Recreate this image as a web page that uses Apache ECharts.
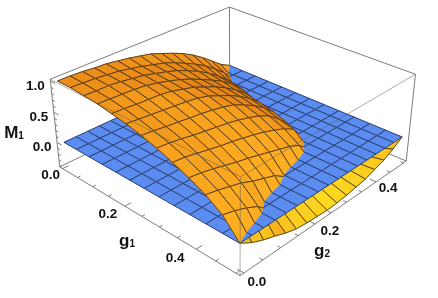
<!DOCTYPE html>
<html><head><meta charset="utf-8">
<style>html,body{margin:0;padding:0;background:#fff}#c{width:438px;height:298px}</style>
<script src="https://cdn.jsdelivr.net/npm/echarts@6/dist/echarts.min.js"></script>
</head><body><div id="c"></div>
<script>
// Axis range and surface samples
var gMin = 0, gMax = 0.5;
var planeLevel = 0;
var g1Ticks = [0, 0.2, 0.4], g2Ticks = [0, 0.2, 0.4], zTicks = [0, 0.5, 1];
var g1Labels = ['0.0', '0.2', '0.4'], g2Labels = ['0.0', '0.2', '0.4'], zLabels = ['0.0', '0.5', '1.0'];
var zBox = [-0.42, 1.03], gBox = [-0.01, 0.51];
// M1 rows: g1 = 0 .. 0.5 (13 samples), columns: g2 = 0 .. 0.5 (17 samples)
var m1 = [
[1.00,1.00,.99,.97,.96,.93,.90,.86,.82,.75,.68,.60,.50,.38,.24,.10,0],
[1.00,.99,.98,.96,.94,.90,.86,.81,.76,.69,.60,.51,.40,.27,.12,-.08,-.20],
[.98,.97,.97,.95,.92,.89,.84,.79,.73,.65,.56,.45,.32,.17,-.07,-.26,-.40],
[.96,.95,.94,.93,.91,.87,.82,.76,.69,.60,.51,.41,.28,.12,-.15,-.32,-.47],
[.92,.91,.89,.88,.87,.84,.79,.74,.66,.58,.48,.36,.22,.02,-.22,-.37,-.50],
[.88,.86,.84,.82,.80,.78,.75,.70,.62,.54,.44,.32,.17,-.13,-.29,-.41,-.52],
[.82,.80,.77,.75,.72,.70,.67,.63,.58,.49,.39,.27,.11,-.15,-.30,-.42,-.53],
[.75,.73,.70,.66,.63,.60,.57,.53,.48,.42,.33,.19,.02,-.19,-.31,-.41,-.48],
[.66,.64,.60,.56,.52,.49,.45,.41,.36,.30,.23,.13,-.10,-.23,-.31,-.38,-.42],
[.56,.53,.49,.44,.39,.35,.30,.25,.20,.15,.07,-.08,-.16,-.25,-.31,-.34,-.36],
[.44,.40,.35,.30,.22,.16,.10,-.02,-.08,-.13,-.17,-.21,-.24,-.26,-.28,-.29,-.27],
[.28,.23,.16,.07,-.10,-.17,-.21,-.25,-.28,-.29,-.30,-.30,-.29,-.28,-.25,-.21,-.15],
[0,-.11,-.19,-.25,-.32,-.37,-.39,-.40,-.41,-.40,-.38,-.35,-.32,-.26,-.20,-.11,0]
];

// ---- view: perspective fitted to the box corners seen in the picture
var pins = [
 [gBox[0],gBox[0],zBox[0],60,168],[gBox[1],gBox[0],zBox[0],240,276],[gBox[1],gBox[1],zBox[0],405,162],
 [gBox[0],gBox[0],zBox[1],50,79],[gBox[1],gBox[0],zBox[1],240,176],[gBox[1],gBox[1],zBox[1],416,75],[gBox[0],gBox[1],zBox[1],229,8],
 [0,0,0,64,142],[.5,0,0,240,243],[.5,.5,0,403,136],[0,.5,0,230,64]
];
function fit(pins){
  var A=[],B=[];
  pins.forEach(function(p){
    var X=p[0]*2,Y=p[1]*2,Z=p[2],u=p[3]/100,v=p[4]/100;
    A.push([X,Y,Z,1,0,0,0,0,-u*X,-u*Y,-u*Z]);B.push(u);
    A.push([0,0,0,0,X,Y,Z,1,-v*X,-v*Y,-v*Z]);B.push(v);
  });
  var n=11,M=[];
  for(var a=0;a<n;a++){M[a]=[];for(var b=0;b<=n;b++){var s=0;
    for(var r=0;r<A.length;r++)s+=A[r][a]*(b<n?A[r][b]:B[r]);M[a][b]=s;}}
  for(var c=0;c<n;c++){var piv=c;for(var r2=c+1;r2<n;r2++)if(Math.abs(M[r2][c])>Math.abs(M[piv][c]))piv=r2;
    var t=M[c];M[c]=M[piv];M[piv]=t;
    for(var r3=0;r3<n;r3++){if(r3===c)continue;var f=M[r3][c]/M[c][c];for(var k=c;k<=n;k++)M[r3][k]-=f*M[c][k];}}
  return M.map(function(row,i){return row[n]/row[i];});
}
var P=fit(pins);
function project(g1,g2,z){
  var X=g1*2,Y=g2*2,w=P[8]*X+P[9]*Y+P[10]*z+1;
  return [100*(P[0]*X+P[1]*Y+P[2]*z+P[3])/w,100*(P[4]*X+P[5]*Y+P[6]*z+P[7])/w];
}

var N1=m1.length-1,N2=m1[0].length-1;
function g1At(i){return gMin+(gMax-gMin)*i/N1;}
function g2At(j){return gMin+(gMax-gMin)*j/N2;}
function corners(i,j,surf){
  var h=surf?function(a,b){return m1[a][b];}:function(){return planeLevel;};
  return [[i,j],[i+1,j],[i+1,j+1],[i,j+1]].map(function(q){return [g1At(q[0]),g2At(q[1]),h(q[0],q[1])];});
}
function lerp3(a,b,t){return [a[0]+(b[0]-a[0])*t,a[1]+(b[1]-a[1])*t,a[2]+(b[2]-a[2])*t];}
function clipPoly(pts,sign){
  var out=[];
  for(var k=0;k<pts.length;k++){
    var a=pts[k],b=pts[(k+1)%pts.length],da=(a[2]-planeLevel)*sign,db=(b[2]-planeLevel)*sign;
    if(da>=0)out.push(a);
    if(da*db<0)out.push(lerp3(a,b,da/(da-db)));
  }
  return out;
}
function clipSeg(a,b,sign){
  var da=(a[2]-planeLevel)*sign,db=(b[2]-planeLevel)*sign;
  if(da<0&&db<0)return null;
  if(da>=0&&db>=0)return [a,b];
  var m=lerp3(a,b,da/(da-db));
  return da>=0?[a,m]:[m,b];
}
function mix(c1,c2,t){t=Math.max(0,Math.min(1,t));
  return 'rgb('+c1.map(function(v,i){return Math.round(v+(c2[i]-v)*t);}).join(',')+')';}
function slopes(i,j){
  var sx=(m1[i+1][j]+m1[i+1][j+1]-m1[i][j]-m1[i][j+1])/2*N1*0.276,
      sy=(m1[i][j+1]+m1[i+1][j+1]-m1[i][j]-m1[i+1][j])/2*N2*0.276;
  return [sx,sy];
}
function upperColor(i,j){
  var s=slopes(i,j),l=Math.sqrt(s[0]*s[0]+s[1]*s[1]+1);
  var t=(-s[0]*0.8+s[1]*0.3+0.5)/l;
  return mix([226,124,20],[255,174,34],(t-0.36)/0.42);
}
function lowerColor(i,j){
  var s=slopes(i,j);
  return mix([245,166,30],[255,216,32],1-Math.abs(s[1])*1.4);
}

function cellShape(api,pts,fill,lineCol,sign){
  var toXY=function(p){return api.coord(project(p[0],p[1],p[2]));};
  var kids=[];
  var poly=sign?clipPoly(pts,sign):pts;
  if(poly.length<3)return {type:'group',children:[]};
  kids.push({type:'polygon',shape:{points:poly.map(toXY)},style:{fill:fill,stroke:fill,lineWidth:0.6}});
  for(var k=0;k<4;k++){
    var seg=sign?clipSeg(pts[k],pts[(k+1)%4],sign):[pts[k],pts[(k+1)%4]];
    if(!seg)continue;
    var a=toXY(seg[0]),b=toXY(seg[1]);
    kids.push({type:'line',shape:{x1:a[0],y1:a[1],x2:b[0],y2:b[1]},style:{stroke:lineCol,lineWidth:0.9}});
  }
  return {type:'group',children:kids};
}
var cells=[];
for(var ci=0;ci<N1;ci++)for(var cj=N2-1;cj>=0;cj--)cells.push([ci,cj]);
function surfaceSeries(kind,z){
  return {type:'custom',coordinateSystem:'cartesian2d',data:cells,z:z,silent:true,animation:false,clip:false,progressive:0,
    renderItem:function(p,api){
      var i=api.value(0),j=api.value(1);
      if(kind==='plane')return cellShape(api,corners(i,j,false),'#5a8cf2','#27395f',0);
      if(kind==='upper')return cellShape(api,corners(i,j,true),upperColor(i,j),'#4a3416',1);
      return cellShape(api,corners(i,j,true),lowerColor(i,j),'#4a3a14',-1);
    }};
}
// ---- box edges
var b0=gBox[0],b1=gBox[1],zl=zBox[0],zh=zBox[1];
var backEdges=[[[b0,b0,zh],[b0,b1,zh]],[[b0,b1,zh],[b1,b1,zh]],[[b0,b1,zl],[b0,b1,zh]],[[b0,b0,zl],[b0,b1,zl]],[[b0,b1,zl],[b1,b1,zl]]];
var sideEdges=[[[b0,b0,zl],[b0,b0,zh]],[[b1,b1,zl],[b1,b1,zh]],[[b0,b0,zl],[b1,b0,zl]],[[b1,b0,zl],[b1,b1,zl]]];
var frontEdges=[[[b0,b0,zh],[b1,b0,zh]],[[b1,b0,zh],[b1,b1,zh]],[[b1,b0,zl],[b1,b0,zh]]];
function edgeSeries(edges,color,z){
  return {type:'custom',coordinateSystem:'cartesian2d',data:edges.map(function(e,i){return [i];}),z:z,silent:true,animation:false,clip:false,
    renderItem:function(p,api){
      var e=edges[api.value(0)],a=api.coord(project.apply(null,e[0])),b=api.coord(project.apply(null,e[1]));
      return {type:'line',shape:{x1:a[0],y1:a[1],x2:b[0],y2:b[1]},style:{stroke:color,lineWidth:1}};
    }};
}
// ---- ticks
var minorG=[];for(var q=0;q<=10;q++)minorG.push(q*0.05);
var minorZ=[];for(var q2=-4;q2<=10;q2++)minorZ.push(q2*0.1);
var tickEdges=[];
minorG.forEach(function(v,i){
  var L=(i%4===0)?0.016:0.008;
  tickEdges.push([[v,b0,zl],[v,b0+L,zl]]);
  tickEdges.push([[b1,v,zl],[b1-L,v,zl]]);
});
minorZ.forEach(function(v,i){
  var L=(i%5===4)?0.016:0.008;
  tickEdges.push([[b0,b0,v],[b0+L,b0,v]]);
});
// ---- text
var FONT='"Liberation Sans",Arial,sans-serif';
var texts=[];
g1Labels.forEach(function(t,i){texts.push({t:t,g:[g1Ticks[i],b0,zl],dx:[-12,-17,-21][i],dy:[7,8,9][i]});});
g2Labels.forEach(function(t,i){texts.push({t:t,g:[b1,g2Ticks[i],zl],dx:[13,15,12][i],dy:[9,7,6][i]});});
zLabels.forEach(function(t,i){texts.push({t:t,g:[b0,b0,zTicks[i]],dx:-15,dy:5});});
var textSeries={type:'custom',coordinateSystem:'cartesian2d',data:texts.map(function(t,i){return [i];}),z:10,silent:true,animation:false,clip:false,
  renderItem:function(p,api){
    var o=texts[api.value(0)],c=api.coord(project.apply(null,o.g));
    return {type:'text',style:{text:o.t,x:c[0]+o.dx,y:c[1]+o.dy,fill:'#111',fontFamily:FONT,fontWeight:'bold',fontSize:13.5,align:'center',verticalAlign:'middle'}};
  }};
var titles=[{m:'M',s:'1',pos:[14,133]},{m:'g',s:'1',pos:[127,241]},{m:'g',s:'2',pos:[322,251]}];
var titleSeries={type:'custom',coordinateSystem:'cartesian2d',data:titles.map(function(t,i){return [i];}),z:10,silent:true,animation:false,clip:false,
  renderItem:function(p,api){
    var o=titles[api.value(0)],c=api.coord(o.pos);
    return {type:'text',style:{text:'{a|'+o.m+'}{b|'+o.s+'}',x:c[0],y:c[1],align:'center',verticalAlign:'middle',
      rich:{a:{fontFamily:FONT,fontWeight:'bold',fontSize:17,fill:'#111',verticalAlign:'bottom'},
            b:{fontFamily:FONT,fontWeight:'bold',fontSize:10,fill:'#111',verticalAlign:'bottom'}}}};
  }};

var chart=echarts.init(document.getElementById('c'),null,{renderer:'canvas',width:438,height:298});
chart.setOption({
  animation:false,backgroundColor:'#fff',
  grid:{left:0,right:0,top:0,bottom:0},
  xAxis:{type:'value',min:0,max:438,show:false},
  yAxis:{type:'value',min:0,max:298,inverse:true,show:false},
  series:[
    edgeSeries(backEdges,'#7d7d7d',1),
    edgeSeries(sideEdges,'#7d7d7d',1),
    edgeSeries(tickEdges,'#7d7d7d',1),
    surfaceSeries('lower',2),
    surfaceSeries('plane',3),
    surfaceSeries('upper',4),
    edgeSeries(frontEdges,'rgba(90,90,90,0.5)',5),
    textSeries,titleSeries
  ]
});
</script></body></html>
